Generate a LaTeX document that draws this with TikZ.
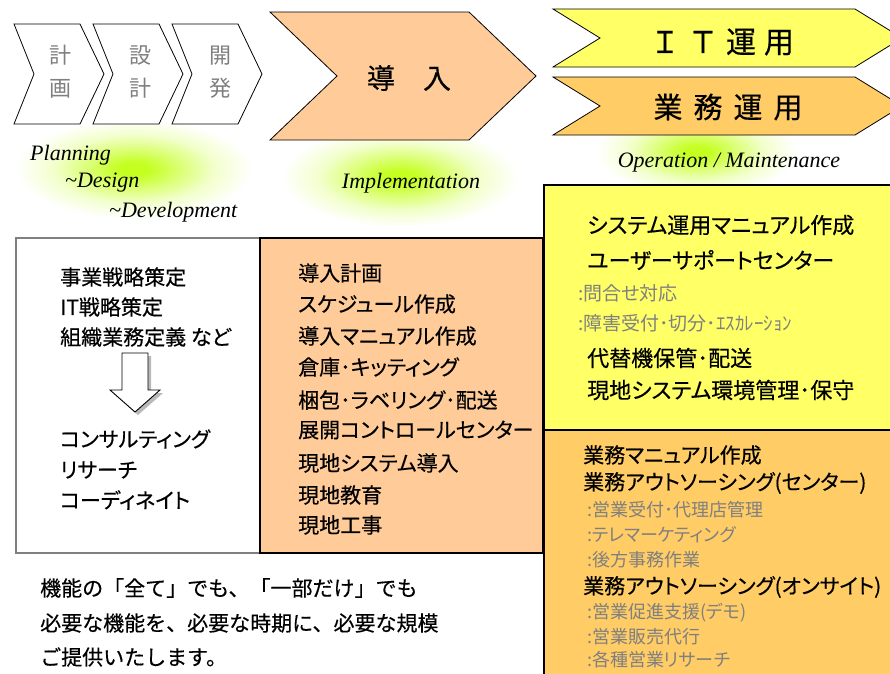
\documentclass[tikz,border=0pt]{standalone}
\usepackage{fontspec}
\newfontfamily\jpp{Noto Sans CJK JP}[RawFeature=+palt, FakeBold=0.4]
\newfontfamily\jpq{Noto Sans CJK JP}[RawFeature=+palt]
\newfontfamily\jpm{Noto Sans CJK JP}[FakeBold=0.4]
\newfontfamily\jpg{Noto Sans CJK JP}
\newfontfamily\tms{Liberation Serif}
\definecolor{peach}{HTML}{FFCC99}
\definecolor{ylw}{HTML}{FFFF66}
\definecolor{org}{HTML}{FFCC66}
\definecolor{txtgray}{HTML}{7F7F7F}
\definecolor{glowA}{HTML}{C4FF20}
\definecolor{glowB}{HTML}{DCFF78}
\definecolor{glowC}{HTML}{F2FFCC}
\pgfdeclareradialshading{glow}{\pgfpoint{0bp}{0bp}}{color(0bp)=(glowA); color(3bp)=(glowA); color(10bp)=(glowB); color(17bp)=(glowC); color(25bp)=(white); color(50bp)=(white)}
\tikzset{
  chev/.style={draw=black, line width=0.8pt, line join=miter},
  boxline/.style={draw=black, line width=2.5pt},
  chevtxt/.style={inner sep=0pt, align=center, text=txtgray, font=\jpg\fontsize{22}{33}\selectfont},
  bigtxt/.style={inner sep=0pt, font=\jpm\fontsize{28}{30}\selectfont},
  entxt/.style={inner sep=0pt, anchor=west, font=\tms\itshape\fontsize{22}{24}\selectfont},
  maintxt/.style={inner sep=0pt, anchor=west, font=\jpp\fontsize{21}{24}\selectfont},
  ymaintxt/.style={maintxt, font=\jpp\fontsize{22}{24}\selectfont},
  subtxt/.style={inner sep=0pt, anchor=west, text=txtgray, font=\jpq\fontsize{18}{20}\selectfont},
  subtxtb/.style={inner sep=0pt, anchor=west, text=txtgray, font=\jpq\fontsize{19}{20}\selectfont},
  msgtxt/.style={inner sep=0pt, anchor=west, font=\jpm\fontsize{21}{24}\selectfont},
  glowspot/.style={shading=glow},
}
\begin{document}
\begin{tikzpicture}[x=1pt,y=-1pt]
\useasboundingbox (0,0) rectangle (890,673);
\clip (0,0) rectangle (890,673);
% glows
\begin{scope}[blend mode=multiply]
\shade[glowspot] (134,169) ellipse [x radius=118pt, y radius=50pt];
\shade[glowspot] (400,177) ellipse [x radius=118pt, y radius=50pt];
\shade[glowspot] (697,152) ellipse [x radius=100pt, y radius=44pt];
\end{scope}
% grey chevrons
\foreach \dx in {0,79,158}
  \draw[chev, fill=white] ({14+\dx},24) -- ({80+\dx},24) -- ({104+\dx},74) -- ({80+\dx},124) -- ({14+\dx},124) -- ({34+\dx},74) -- cycle;
\node[chevtxt] (c1) at (60,72) {計\\画};
\node[chevtxt] (c2) at (140,72) {設\\計};
\node[chevtxt] (c3) at (220,72) {開\\発};
% implementation chevron
\draw[chev, fill=peach] (270,12) -- (469,12) -- (536,76) -- (469,140) -- (270,140) -- (337,76) -- cycle;
\node[bigtxt] (dounyu) at (409,78) {導　入};
% operation chevrons
\draw[chev, fill=ylw] (553,9) -- (855,9) -- (902,38) -- (855,67) -- (553,67) -- (600,38) -- cycle;
\draw[chev, fill=org] (553,77) -- (855,77) -- (902,106) -- (855,135) -- (553,135) -- (600,106) -- cycle;
\node[inner sep=0pt, font=\jpm\fontsize{30}{32}\selectfont] (itop) at (722,42) {Ｉ\hspace{8pt}Ｔ\hspace{8pt}運\hspace{8pt}用};
\node[inner sep=0pt, font=\jpm\fontsize{29}{32}\selectfont] (gyop) at (728,107) {業\hspace{11pt}務\hspace{11pt}運\hspace{11pt}用};
% english labels
\node[entxt] (plan) at (30,155) {Planning};
\node[entxt] (desg) at (65,183) {\textasciitilde Design};
\node[entxt] (devl) at (109,212) {\textasciitilde Development};
\node[entxt, anchor=center] (impl) at (411,183) {Implementation};
\node[entxt, anchor=center] (oper) at (729,163) {Operation / Maintenance};
% boxes
\draw[draw=gray, line width=1.2pt, fill=white] (16,238) rectangle (260,553);
\draw[boxline, fill=peach] (260,238) rectangle (543,553);
\draw[boxline, fill=ylw] (544,185) rectangle (900,430);
\draw[boxline, fill=org] (544,430) rectangle (900,700);
% down arrow
\begin{scope}[shift={(3,3)}]
\fill[gray!55] (122,353) -- (148,353) -- (148,390) -- (160,390) -- (135,412) -- (110,390) -- (122,390) -- cycle;
\end{scope}
\draw[line width=0.9pt, fill=white, line join=miter] (122,353) -- (148,353) -- (148,390) -- (160,390) -- (135,412) -- (110,390) -- (122,390) -- cycle;
% left box text
\node[maintxt] (l1) at (60,277) {事業戦略策定};
\node[maintxt] (l2) at (60,307) {IT戦略策定};
\node[maintxt] (l3) at (60,337) {組織業務定義 など};
\node[maintxt] (l4) at (60,439) {コンサルティング};
\node[maintxt] (l5) at (60,470) {リサーチ};
\node[maintxt] (l6) at (60,500) {コーディネイト};
% implementation box text
\node[maintxt] (p1) at (298,273) {導入計画};
\node[maintxt] (p2) at (298,304) {スケジュール作成};
\node[maintxt] (p3) at (298,336) {導入マニュアル作成};
\node[maintxt] (p4) at (298,367) {倉庫･キッティング};
\node[maintxt] (p5) at (298,400) {梱包･ラベリング･配送};
\node[maintxt] (p6) at (298,430) {展開コントロールセンター};
\node[maintxt] (p7) at (298,463) {現地システム導入};
\node[maintxt] (p8) at (298,495) {現地教育};
\node[maintxt] (p9) at (298,525) {現地工事};
% IT operation text
\node[ymaintxt] (y1) at (587,225) {システム運用マニュアル作成};
\node[ymaintxt] (y2) at (587,260) {ユーザーサポートセンター};
\node[subtxtb] (y3) at (578,293) {:問合せ対応};
\node[subtxtb] (y4) at (578,323) {:障害受付･切分･ｴｽｶﾚｰｼｮﾝ};
\node[ymaintxt] (y5) at (587,358) {代替機保管･配送};
\node[ymaintxt] (y6) at (587,390) {現地システム環境管理･保守};
% business operation text
\node[maintxt] (o1) at (583,455) {業務マニュアル作成};
\node[maintxt] (o2) at (583,483) {業務アウトソーシング(センター)};
\node[subtxt] (o3) at (587,510) {:営業受付･代理店管理};
\node[subtxt] (o4) at (587,535) {:テレマーケティング};
\node[subtxt] (o5) at (587,560) {:後方事務作業};
\node[maintxt] (o6) at (583,587) {業務アウトソーシング(オンサイト)};
\node[subtxt] (o7) at (587,613) {:営業促進支援(デモ)};
\node[subtxt] (o8) at (587,637) {:営業販売代行};
\node[subtxt] (o9) at (587,660) {:各種営業リサーチ};
% message
\node[msgtxt] (m1) at (40,588) {機能の「全て」でも、「一部だけ」でも};
\node[msgtxt] (m2) at (40,623) {必要な機能を、必要な時期に、必要な規模};
\node[msgtxt] (m3) at (40,657) {ご提供いたします。};
\end{tikzpicture}
\end{document}
